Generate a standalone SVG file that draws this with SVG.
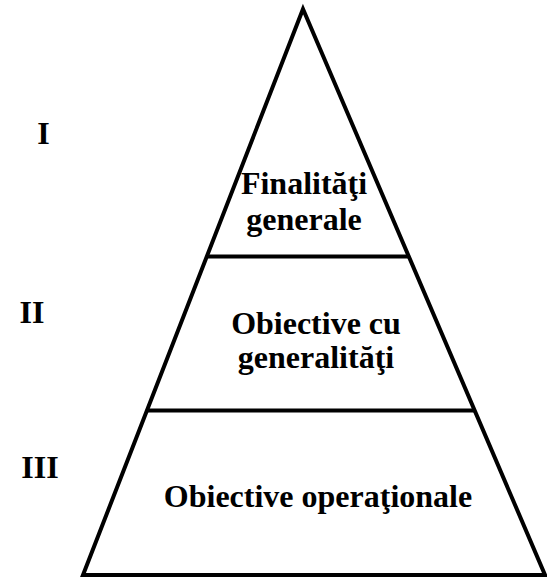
<svg xmlns="http://www.w3.org/2000/svg" width="547" height="579" viewBox="0 0 547 579">
  <style>
    .edge { fill: none; stroke: #000; stroke-width: 4; stroke-linejoin: miter; }
    .lbl { font-family: "Liberation Serif", "Times New Roman", serif; font-weight: bold; font-size: 32px; fill: #000; text-anchor: middle; }
    .num { font-family: "Liberation Serif", "Times New Roman", serif; font-weight: bold; font-size: 32px; fill: #000; text-anchor: middle; }
  </style>
  <rect width="547" height="579" fill="#fff"/>

  <!-- pyramid outline and level dividers -->
  <g id="connectors">
    <path class="edge" d="M303,9 L83,575 L545,575 Z"/>
    <line class="edge" x1="206" y1="256.5" x2="409" y2="256.5"/>
    <line class="edge" x1="147" y1="410.5" x2="475" y2="410.5"/>
  </g>

  <!-- level I -->
  <g id="level-1">
    <text class="num" x="43.5" y="144">I</text>
    <text class="lbl" x="304" y="194" font-size="31.5">Finalităţi</text>
    <text class="lbl" x="304" y="230">generale</text>
  </g>

  <!-- level II -->
  <g id="level-2">
    <text class="num" x="32" y="323">II</text>
    <text class="lbl" x="316" y="334">Obiective cu</text>
    <text class="lbl" x="316" y="368">generalităţi</text>
  </g>

  <!-- level III -->
  <g id="level-3">
    <text class="num" x="40" y="478">III</text>
    <text class="lbl" x="318" y="507" font-size="31.2">Obiective operaţionale</text>
  </g>
</svg>
